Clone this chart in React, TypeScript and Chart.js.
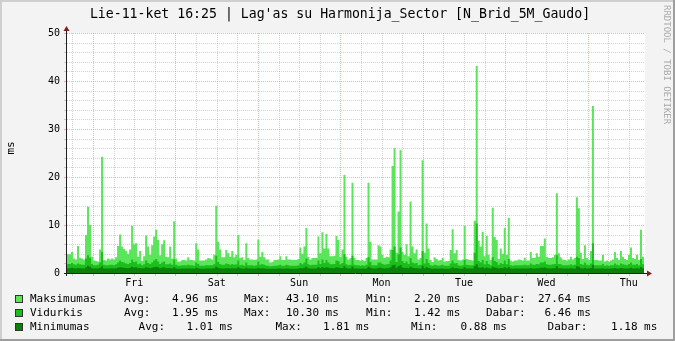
import React, { useEffect, useRef } from "react";
import { Chart, registerables } from "chart.js";

Chart.register(...registerables);

// ---------- text ----------
const TITLE = "Lie-11-ket 16:25 | Lag'as su Harmonija_Sector [N_Brid_5M_Gaudo]";
const Y_TITLE = "ms";
const WATERMARK = "RRDTOOL / TOBI OETIKER";
const DAY_LABELS = ["Fri", "Sat", "Sun", "Mon", "Tue", "Wed", "Thu"];
const Y_TICKS = [0, 10, 20, 30, 40, 50];

// ---------- axis ranges ----------
const HOURS_SPAN = 168; // one week, graph starts Thu 16:25
const FIRST_MIDNIGHT_H = 7.583; // hours after start
const Y_MAX = 50;
const Y_MINOR_STEP = 2;
const X_MINOR_STEP_H = 6;

// ---------- data (ms), one value per ~35 min sample ----------
const MAX_MS = [
  3.9, 4.4, 3.0, 2.8, 5.6, 3.2, 3.0, 2.8, 7.9, 13.8, 10.0, 3.4, 2.6, 2.5, 2.4, 4.9, 24.2, 2.7, 2.6, 3.0, 2.8, 3.0, 2.8, 3.3,
  5.6, 8.0, 5.5, 5.0, 4.6, 4.0, 4.9, 9.8, 6.0, 6.2, 3.4, 4.6, 2.5, 3.5, 7.8, 5.5, 3.8, 5.8, 7.6, 9.0, 6.9, 3.7, 6.0, 6.8,
  3.4, 3.3, 5.5, 3.0, 10.8, 3.0, 2.4, 2.4, 2.7, 2.7, 2.6, 3.3, 2.7, 2.7, 2.6, 6.2, 4.9, 2.6, 2.6, 2.6, 2.8, 3.1, 3.0, 2.8,
  3.8, 14.0, 6.5, 4.9, 3.3, 3.3, 4.8, 4.1, 3.4, 4.6, 3.3, 3.8, 7.9, 3.1, 3.3, 2.7, 6.2, 3.1, 2.8, 2.8, 2.7, 2.8, 7.0, 3.4,
  4.4, 3.3, 2.8, 2.8, 2.2, 2.3, 2.7, 2.7, 2.8, 3.5, 2.7, 2.7, 3.5, 2.8, 2.8, 2.7, 2.7, 2.7, 2.9, 5.3, 4.0, 5.5, 9.4, 3.4,
  2.8, 3.1, 3.1, 3.1, 7.6, 4.1, 8.5, 5.1, 8.1, 5.1, 3.5, 3.5, 3.6, 7.7, 6.9, 3.4, 4.9, 20.4, 3.4, 2.8, 3.1, 18.8, 3.1, 2.7,
  2.7, 2.6, 2.7, 2.5, 3.1, 18.8, 6.5, 2.8, 2.8, 2.8, 5.8, 5.5, 3.8, 3.1, 3.4, 3.3, 4.9, 22.3, 26.0, 4.2, 12.8, 25.6, 4.4, 3.8,
  6.0, 3.5, 14.9, 5.5, 4.1, 4.9, 2.8, 3.1, 23.5, 4.2, 10.3, 5.1, 2.7, 2.3, 3.3, 2.9, 2.6, 2.7, 3.1, 2.4, 2.5, 2.5, 4.8, 9.1,
  4.1, 4.8, 2.7, 2.6, 2.8, 9.8, 2.9, 2.8, 2.7, 2.6, 10.9, 43.1, 6.7, 5.5, 8.6, 3.5, 7.7, 3.8, 2.7, 13.6, 7.5, 6.9, 2.9, 5.1,
  4.0, 9.4, 3.8, 11.5, 2.6, 2.4, 2.6, 2.6, 2.8, 2.7, 2.6, 3.2, 2.6, 2.6, 4.4, 3.1, 3.2, 4.1, 3.4, 5.6, 5.6, 7.2, 3.4, 3.1,
  3.1, 3.3, 3.8, 16.6, 4.1, 3.3, 2.8, 2.7, 2.6, 2.8, 3.4, 2.8, 3.1, 15.8, 13.5, 4.2, 2.9, 5.8, 3.1, 2.7, 4.6, 34.8, 2.7, 2.7,
  2.6, 2.6, 3.8, 2.4, 2.6, 2.4, 2.6, 2.8, 4.4, 3.1, 2.7, 4.6, 3.4, 2.9, 2.7, 3.8, 5.3, 3.1, 2.9, 3.8, 2.7, 9.0, 3.4, 27.64,
];

const AVG_MS = [
  1.9, 2.1, 1.8, 1.7, 2.0, 1.8, 1.7, 1.7, 3.0, 3.7, 3.2, 1.9, 1.6, 1.6, 1.7, 2.2, 4.4, 1.7, 1.6, 1.6, 1.7, 1.7, 1.6, 1.8,
  2.2, 2.6, 2.3, 2.2, 2.0, 1.9, 2.1, 2.8, 2.3, 2.4, 1.8, 2.0, 1.6, 1.8, 2.6, 2.1, 1.9, 2.2, 2.6, 2.9, 2.4, 1.9, 2.2, 2.4,
  1.8, 1.8, 2.0, 1.7, 2.8, 1.7, 1.5, 1.5, 1.6, 1.6, 1.6, 1.7, 1.6, 1.6, 1.5, 2.2, 1.9, 1.5, 1.5, 1.5, 1.6, 1.6, 1.6, 1.6,
  1.8, 3.6, 2.3, 1.9, 1.7, 1.7, 2.0, 1.9, 1.7, 1.9, 1.7, 1.8, 2.6, 1.6, 1.7, 1.5, 2.2, 1.6, 1.6, 1.6, 1.5, 1.6, 2.4, 1.7,
  1.9, 1.7, 1.5, 1.5, 1.42, 1.45, 1.5, 1.5, 1.6, 1.7, 1.5, 1.5, 1.7, 1.6, 1.5, 1.5, 1.5, 1.5, 1.6, 2.1, 1.8, 2.2, 3.0, 1.8,
  1.6, 1.7, 1.7, 1.7, 2.6, 1.9, 2.8, 2.1, 2.7, 2.2, 1.8, 1.8, 1.9, 2.6, 2.5, 1.8, 2.1, 3.9, 1.8, 1.6, 1.7, 3.6, 1.7, 1.6,
  1.6, 1.5, 1.6, 1.5, 1.7, 3.3, 2.3, 1.6, 1.6, 1.6, 2.2, 2.2, 1.9, 1.7, 1.8, 1.9, 2.6, 4.8, 5.5, 2.3, 3.9, 5.3, 2.5, 2.1,
  2.4, 1.9, 3.1, 2.2, 2.0, 2.1, 1.6, 1.7, 4.6, 2.0, 2.9, 2.1, 1.6, 1.5, 1.7, 1.6, 1.5, 1.6, 1.7, 1.5, 1.5, 1.5, 2.0, 2.6,
  2.0, 2.1, 1.6, 1.5, 1.6, 2.7, 1.7, 1.6, 1.6, 1.6, 4.2, 10.3, 2.5, 2.2, 2.7, 1.8, 2.5, 1.9, 1.6, 3.3, 2.5, 2.3, 1.7, 2.1,
  1.9, 2.6, 1.8, 2.9, 1.6, 1.5, 1.6, 1.6, 1.6, 1.6, 1.6, 1.7, 1.6, 1.6, 2.0, 1.7, 1.7, 1.9, 1.8, 2.2, 2.2, 2.4, 1.8, 1.7,
  1.7, 1.8, 1.9, 3.7, 1.9, 1.8, 1.6, 1.6, 1.6, 1.6, 1.8, 1.6, 1.7, 3.4, 3.1, 1.9, 1.7, 2.2, 1.7, 1.6, 2.0, 6.2, 1.6, 1.6,
  1.6, 1.6, 1.9, 1.5, 1.6, 1.5, 1.6, 1.6, 2.0, 1.7, 1.6, 2.0, 1.8, 1.7, 1.6, 1.9, 2.2, 1.7, 1.7, 1.9, 1.6, 2.9, 1.8, 6.46,
];

const MIN_MS = [
  1.0, 1.1, 1.0, 0.95, 1.05, 1.0, 0.95, 0.95, 1.2, 1.5, 1.3, 1.0, 0.95, 0.95, 0.95, 1.1, 1.4, 0.95, 0.95, 0.95, 0.95, 1.0, 0.95, 1.0,
  1.1, 1.2, 1.15, 1.1, 1.05, 1.0, 1.1, 1.3, 1.15, 1.2, 1.0, 1.05, 0.95, 1.0, 1.2, 1.1, 1.0, 1.1, 1.2, 1.3, 1.2, 1.0, 1.1, 1.2,
  1.0, 1.0, 1.05, 0.95, 1.2, 0.95, 0.9, 0.9, 0.92, 0.92, 0.92, 0.95, 0.92, 0.92, 0.9, 1.1, 1.0, 0.9, 0.9, 0.9, 0.92, 0.92, 0.92, 0.92,
  1.0, 1.3, 1.1, 1.0, 0.95, 0.95, 1.0, 1.0, 0.95, 1.0, 0.95, 1.0, 1.2, 0.92, 0.95, 0.9, 1.1, 0.92, 0.92, 0.92, 0.9, 0.92, 1.1, 0.95,
  1.0, 0.95, 0.9, 0.9, 0.88, 0.88, 0.9, 0.9, 0.92, 0.95, 0.9, 0.9, 0.95, 0.92, 0.9, 0.9, 0.9, 0.9, 0.92, 1.05, 1.0, 1.1, 1.3, 1.0,
  0.92, 0.95, 0.95, 0.95, 1.2, 1.0, 1.25, 1.05, 1.2, 1.1, 1.0, 1.0, 1.0, 1.2, 1.15, 1.0, 1.05, 1.4, 1.0, 0.92, 0.95, 1.35, 0.95, 0.92,
  0.92, 0.9, 0.92, 0.9, 0.95, 1.3, 1.1, 0.92, 0.92, 0.92, 1.1, 1.1, 1.0, 0.95, 1.0, 1.0, 1.2, 1.6, 1.7, 1.1, 1.4, 1.65, 1.15, 1.05,
  1.1, 1.0, 1.3, 1.1, 1.0, 1.05, 0.92, 0.95, 1.5, 1.0, 1.25, 1.05, 0.92, 0.9, 0.95, 0.92, 0.9, 0.92, 0.95, 0.9, 0.9, 0.9, 1.0, 1.2,
  1.0, 1.05, 0.92, 0.9, 0.92, 1.2, 0.95, 0.92, 0.92, 0.92, 1.4, 1.81, 1.15, 1.1, 1.2, 1.0, 1.15, 1.0, 0.92, 1.3, 1.15, 1.1, 0.95, 1.05,
  1.0, 1.2, 1.0, 1.25, 0.92, 0.9, 0.92, 0.92, 0.92, 0.92, 0.92, 0.95, 0.92, 0.92, 1.05, 0.95, 0.95, 1.0, 1.0, 1.1, 1.1, 1.15, 1.0, 0.95,
  0.95, 1.0, 1.0, 1.45, 1.0, 1.0, 0.92, 0.92, 0.92, 0.92, 1.0, 0.92, 0.95, 1.4, 1.3, 1.0, 0.95, 1.1, 0.95, 0.92, 1.05, 1.7, 0.92, 0.92,
  0.92, 0.92, 1.0, 0.9, 0.92, 0.9, 0.92, 0.92, 1.05, 0.95, 0.92, 1.05, 1.0, 0.95, 0.92, 1.0, 1.1, 0.95, 0.95, 1.0, 0.92, 1.25, 1.0, 1.18,
];

// ---------- legend ----------
const SERIES_NAMES = ["Maksimumas", "Vidurkis", "Minimumas"];
const STAT_NAMES = ["Avg:", "Max:", "Min:", "Dabar:"];
const MAX_STATS = ["4.96", "43.10", "2.20", "27.64"];
const AVG_STATS = ["1.95", "10.30", "1.42", "6.46"];
const MIN_STATS = ["1.01", "1.81", "0.88", "1.18"];
const UNIT = "ms";

// ---------- style ----------
const COLORS = ["#5BE55B", "#1BBE1B", "#0B800B"];
const MONO = '"DejaVu Sans Mono", monospace';
const GRID_MINOR = "rgba(143,143,143,0.4)";
const GRID_MAJOR = "rgba(222,79,79,0.42)";
const AXIS_COLOR = "#1F1F1F";
const ARROW_COLOR = "#801F1F";

function toSteps(vals: number[]) {
  const dt = HOURS_SPAN / vals.length;
  const pts = [{ x: 0, y: vals[0] }];
  vals.forEach((v, i) => pts.push({ x: (i + 1) * dt, y: v }));
  return pts;
}

const rrdPlugin = {
  id: "rrdLook",
  beforeDraw(chart: any) {
    const { ctx, width, height, chartArea: a } = chart;
    ctx.save();
    ctx.fillStyle = "#F3F3F3";
    ctx.fillRect(0, 0, width, height);
    ctx.fillStyle = "#CFCFCF";
    ctx.fillRect(0, 0, width, 2);
    ctx.fillRect(0, 0, 2, height);
    ctx.fillStyle = "#9E9E9E";
    ctx.fillRect(0, height - 2, width, 2);
    ctx.fillRect(width - 2, 0, 2, height);
    ctx.fillStyle = "#FFFFFF";
    ctx.fillRect(a.left, a.top, a.right - a.left + 1, a.bottom - a.top);
    ctx.restore();
  },
  beforeDatasetsDraw(chart: any) {
    const { ctx, chartArea: a, scales } = chart;
    const xs = scales.x;
    const ys = scales.y;
    ctx.save();
    ctx.lineWidth = 1;
    for (let v = Y_MINOR_STEP; v <= Y_MAX; v += Y_MINOR_STEP) {
      const y = Math.round(ys.getPixelForValue(v)) + 0.5;
      const major = v % 10 === 0;
      ctx.strokeStyle = major ? GRID_MAJOR : GRID_MINOR;
      ctx.setLineDash([1, 1]);
      ctx.beginPath();
      ctx.moveTo(a.left, y);
      ctx.lineTo(a.right + 1, y);
      ctx.stroke();
      ctx.setLineDash([]);
      ctx.beginPath();
      ctx.moveTo(a.left - 3, y);
      ctx.lineTo(a.left - 1, y);
      ctx.stroke();
    }
    for (let t = FIRST_MIDNIGHT_H - X_MINOR_STEP_H; t < HOURS_SPAN; t += X_MINOR_STEP_H) {
      if (t <= 0) continue;
      const x = Math.round(xs.getPixelForValue(t)) + 0.5;
      const k = (t - FIRST_MIDNIGHT_H) / 24;
      const major = Math.abs(k - Math.round(k)) < 1e-6;
      ctx.strokeStyle = major ? GRID_MAJOR : GRID_MINOR;
      ctx.setLineDash([1, 1]);
      ctx.beginPath();
      ctx.moveTo(x, a.top);
      ctx.lineTo(x, a.bottom);
      ctx.stroke();
      ctx.setLineDash([]);
      ctx.beginPath();
      ctx.moveTo(x, a.bottom + 1);
      ctx.lineTo(x, a.bottom + 3);
      ctx.stroke();
    }
    ctx.restore();
  },
  afterDatasetsDraw(chart: any) {
    const { ctx, chartArea: a, scales } = chart;
    const xs = scales.x;
    const ys = scales.y;
    ctx.save();
    ctx.lineWidth = 1;

    // axes
    ctx.strokeStyle = AXIS_COLOR;
    ctx.beginPath();
    ctx.moveTo(a.left - 0.5, a.bottom + 3);
    ctx.lineTo(a.left - 0.5, a.top - 4);
    ctx.moveTo(a.left - 3, a.bottom + 0.5);
    ctx.lineTo(a.right + 3, a.bottom + 0.5);
    ctx.stroke();
    ctx.fillStyle = ARROW_COLOR;
    ctx.beginPath();
    ctx.moveTo(a.left - 0.5, a.top - 7);
    ctx.lineTo(a.left - 3.5, a.top - 2);
    ctx.lineTo(a.left + 2.5, a.top - 2);
    ctx.closePath();
    ctx.fill();
    ctx.beginPath();
    ctx.moveTo(a.right + 8, a.bottom + 0.5);
    ctx.lineTo(a.right + 3, a.bottom - 2.5);
    ctx.lineTo(a.right + 3, a.bottom + 3.5);
    ctx.closePath();
    ctx.fill();

    // tick labels
    ctx.fillStyle = "#000";
    ctx.font = `10px ${MONO}`;
    ctx.textAlign = "right";
    ctx.textBaseline = "middle";
    Y_TICKS.forEach((v) => {
      ctx.fillText(String(v), a.left - 7, ys.getPixelForValue(v) + 0.5);
    });
    ctx.textAlign = "center";
    DAY_LABELS.forEach((d, i) => {
      ctx.fillText(d, xs.getPixelForValue(FIRST_MIDNIGHT_H + 12 + 24 * i), a.bottom + 10);
    });

    // title
    ctx.font = `13.2px ${MONO}`;
    ctx.textBaseline = "alphabetic";
    ctx.fillText(TITLE, 340, 18);

    // y title
    ctx.save();
    ctx.translate(11, 148);
    ctx.rotate(-Math.PI / 2);
    ctx.font = `11px ${MONO}`;
    ctx.textBaseline = "middle";
    ctx.fillText(Y_TITLE, 0, 0);
    ctx.restore();

    // watermark
    ctx.save();
    ctx.translate(666.5, 5);
    ctx.rotate(Math.PI / 2);
    ctx.font = `9px ${MONO}`;
    ctx.fillStyle = "#AAAAAA";
    ctx.textAlign = "left";
    ctx.textBaseline = "middle";
    ctx.fillText(WATERMARK, 0, 0);
    ctx.restore();

    // legend
    const rows = [
      { stats: MAX_STATS, labelX: [124, 244, 366, 486], valEnd: [198.5, 319, 440.5, 571] },
      { stats: AVG_STATS, labelX: [124, 244, 366, 486], valEnd: [198.5, 319, 440.5, 571] },
      { stats: MIN_STATS, labelX: [138.6, 275.5, 411, 547.6], valEnd: [213, 349.5, 487, 637.5] },
    ];
    ctx.font = `11px ${MONO}`;
    ctx.textBaseline = "middle";
    rows.forEach((r, i) => {
      const cy = 299.5 + 14 * i;
      ctx.fillStyle = COLORS[i];
      ctx.fillRect(15, cy - 4.5, 8, 8);
      ctx.strokeStyle = "#333";
      ctx.strokeRect(15.5, cy - 4, 7, 7);
      ctx.fillStyle = "#000";
      ctx.textAlign = "left";
      ctx.fillText(SERIES_NAMES[i], 30, cy);
      STAT_NAMES.forEach((s, j) => {
        ctx.textAlign = "left";
        ctx.fillText(s, r.labelX[j], cy);
        ctx.textAlign = "right";
        ctx.fillText(r.stats[j], r.valEnd[j], cy);
        ctx.textAlign = "left";
        ctx.fillText(" " + UNIT, r.valEnd[j], cy);
      });
    });
    ctx.restore();
  },
};

export default function App() {
  const ref = useRef<HTMLCanvasElement>(null);
  useEffect(() => {
    document.body.style.margin = "0";
    const ds = (label: string, vals: number[], color: string, order: number) => ({
      label,
      data: toSteps(vals),
      stepped: "before" as const,
      fill: "origin",
      backgroundColor: color,
      borderColor: "rgba(0,0,0,0)",
      borderWidth: 0,
      pointRadius: 0,
      pointHoverRadius: 0,
      order,
    });
    const chart = new Chart(ref.current!, {
      type: "line",
      data: {
        datasets: [
          ds(SERIES_NAMES[0], MAX_MS, COLORS[0], 2),
          ds(SERIES_NAMES[1], AVG_MS, COLORS[1], 1),
          ds(SERIES_NAMES[2], MIN_MS, COLORS[2], 0),
        ],
      },
      options: {
        animation: false,
        responsive: false,
        devicePixelRatio: 1,
        events: [],
        layout: { autoPadding: false, padding: { left: 0, top: 33, right: 31, bottom: 0 } },
        plugins: { legend: { display: false }, title: { display: false }, tooltip: { enabled: false } },
        scales: {
          x: {
            type: "linear",
            min: 0,
            max: HOURS_SPAN,
            grid: { display: false },
            border: { display: false },
            ticks: { display: false },
            afterFit: (s: any) => { s.height = 68; },
          },
          y: {
            min: 0,
            max: Y_MAX,
            grid: { display: false },
            border: { display: false },
            ticks: { display: false },
            afterFit: (s: any) => { s.width = 67; },
          },
        },
      } as any,
      plugins: [rrdPlugin],
    });
    return () => chart.destroy();
  }, []);
  return (
    <div style={{ position: "absolute", left: 0, top: 0, width: 675, height: 341 }}>
      <canvas ref={ref} width={675} height={341} style={{ display: "block", width: 675, height: 341 }} />
    </div>
  );
}
